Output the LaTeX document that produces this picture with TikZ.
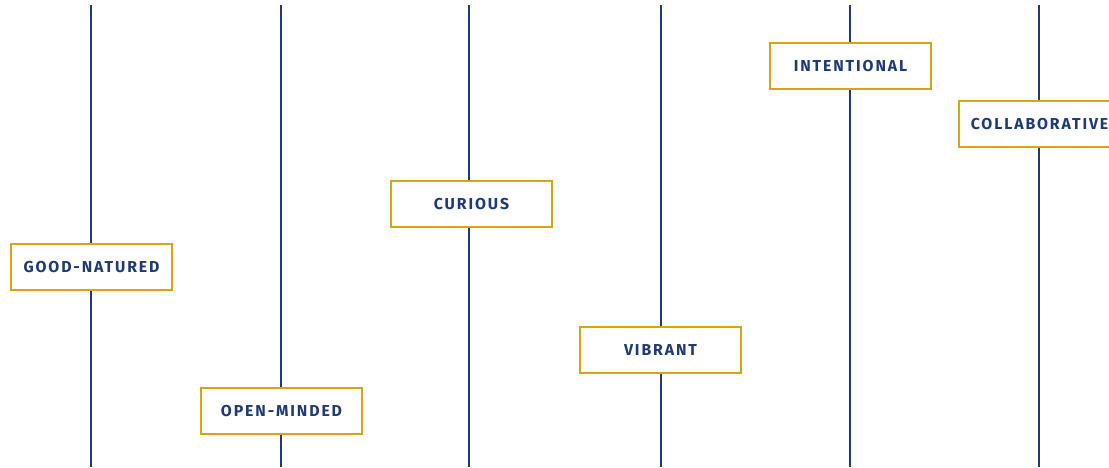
\documentclass[tikz,border=0pt]{standalone}
\usepackage{fontspec}
\setmainfont{Fira Sans}[LetterSpace=12]
\usetikzlibrary{positioning}
\definecolor{navy}{RGB}{30,58,120}
\definecolor{gold}{RGB}{212,165,20}
\tikzset{
  stem/.style={draw=navy, line width=0.04cm},
  word/.style={draw=gold, fill=white, line width=0.04cm, minimum width=3.22cm, minimum height=0.92cm,
    inner sep=0pt, text=navy, font=\bfseries\fontsize{9}{10}\selectfont}
}
\begin{document}
\begin{tikzpicture}[x=0.02cm,y=-0.02cm]
\clip (0,0) rectangle (1109,467);
% columns
\foreach \n/\x in {1/91,2/281,3/469,4/661,5/850,6/1039}{
  \coordinate (top\n) at (\x,5);
  \coordinate (bot\n) at (\x,467);
}
\node[word] (good) at (91.5,267) {GOOD-NATURED};
\node[word] (open) at (281.5,411) {OPEN-MINDED};
\node[word] (curious) at (471.5,204) {CURIOUS};
\node[word] (vibrant) at (660.5,350) {VIBRANT};
\node[word] (intent) at (850.5,66) {INTENTIONAL};
\node[word] (collab) at (1039.5,124) {COLLABORATIVE};

\draw[stem] (top1)--(top1|-good.north);
\draw[stem] (top1|-good.south)--(bot1);
\draw[stem] (top2)--(top2|-open.north);
\draw[stem] (top2|-open.south)--(bot2);
\draw[stem] (top3)--(top3|-curious.north);
\draw[stem] (top3|-curious.south)--(bot3);
\draw[stem] (top4)--(top4|-vibrant.north);
\draw[stem] (top4|-vibrant.south)--(bot4);
\draw[stem] (top5)--(top5|-intent.north);
\draw[stem] (top5|-intent.south)--(bot5);
\draw[stem] (top6)--(top6|-collab.north);
\draw[stem] (top6|-collab.south)--(bot6);
\end{tikzpicture}
\end{document}
